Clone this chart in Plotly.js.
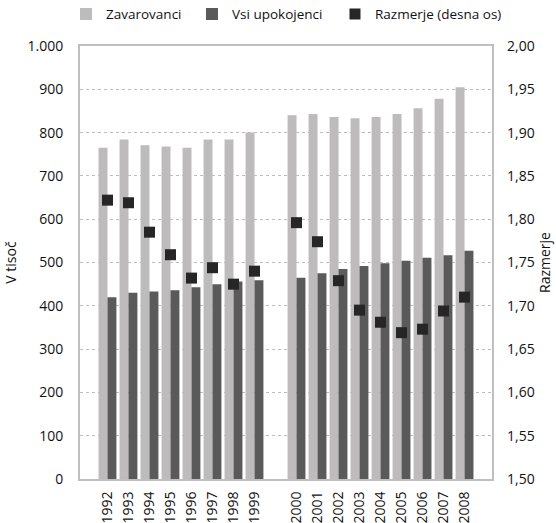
<!DOCTYPE html>
<html>
<head>
<meta charset="utf-8">
<script src="https://cdn.plot.ly/plotly-3.0.1.min.js"></script>
<style>html,body{margin:0;padding:0;background:#fff}#chart{width:556px;height:523px}</style>
</head>
<body>
<div id="chart"></div>
<script>
const years = ['1992','1993','1994','1995','1996','1997','1998','1999',' ','2000','2001','2002','2003','2004','2005','2006','2007','2008'];
const zavarovanci = [765,784,771,768,765,784,784,800,null,840,843,836,833,836,843,856,878,905];
const upokojenci = [420,430,433,436,443,450,456,459,null,465,475,485,492,498,504,511,517,527];
const razmerje = [1.822,1.819,1.785,1.759,1.732,1.744,1.725,1.740,null,1.796,1.774,1.729,1.695,1.681,1.669,1.673,1.694,1.710];
const names = ['Zavarovanci','Vsi upokojenci','Razmerje (desna os)'];

const font = {family:'Open Sans, sans-serif', size:14, color:'#111'};
const legendFont = {family:'Open Sans, sans-serif', size:13.5, color:'#111'};
const data = [
  {type:'bar', x:years, y:zavarovanci, name:names[0], marker:{color:'#bdbbbc'}, legend:'legend'},
  {type:'bar', x:years, y:upokojenci, name:names[1], marker:{color:'#5a5a5a'}, legend:'legend2'},
  {type:'scatter', mode:'markers', x:years, y:razmerje, name:names[2], yaxis:'y2', legend:'legend3',
   marker:{symbol:'square', size:11, color:'#262626'}}
];
function leg(x){
  return {orientation:'h', xref:'container', yref:'container', x:x, xanchor:'left', y:0.973, yanchor:'middle',
    font:legendFont, itemwidth:30, bgcolor:'rgba(0,0,0,0)'};
}
const layout = {
  width:556, height:523,
  margin:{l:80, r:64, t:46, b:44},
  font:font,
  separators:',.',
  paper_bgcolor:'#fff', plot_bgcolor:'#fff',
  barmode:'group', bargap:0.15, bargroupgap:0,
  showlegend:true,
  legend:leg(0.1187), legend2:leg(0.3453), legend3:leg(0.6025),
  xaxis:{type:'category', categoryorder:'array', categoryarray:years, tickangle:-90,
    showline:true, linecolor:'#bfbfbf', linewidth:2, mirror:true, ticks:'', showgrid:false,
    ticklabelstandoff:5, tickfont:font, automargin:false},
  yaxis:{range:[0,1000], dtick:100, tickformat:',d', showline:true, linecolor:'#bfbfbf', linewidth:2, mirror:true,
    showgrid:true, gridcolor:'#bdbdbd', griddash:'dot', gridwidth:1, ticks:'', ticklabelstandoff:12,
    zeroline:false, tickfont:font, title:{text:'V tisoč', font:font, standoff:8}, automargin:false},
  yaxis2:{overlaying:'y', side:'right', range:[1.5,2.0], dtick:0.05, tickformat:'.2f', showgrid:false,
    showline:false, ticks:'', ticklabelstandoff:14, zeroline:false, tickfont:font,
    title:{text:'Razmerje', font:font, standoff:4}, automargin:false}
};
Plotly.newPlot('chart', data, layout, {displayModeBar:false, staticPlot:true});
</script>
</body>
</html>
